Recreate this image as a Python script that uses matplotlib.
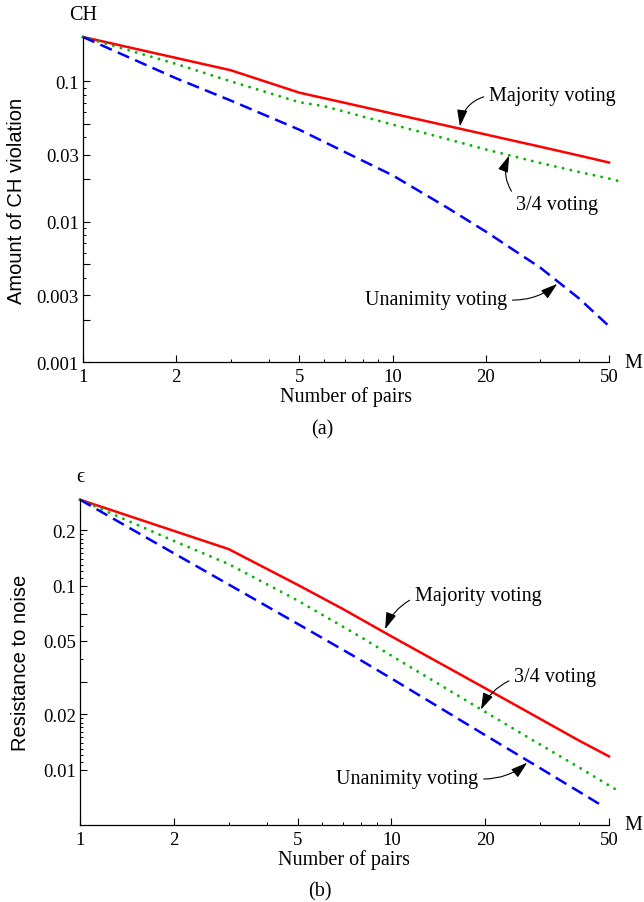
import numpy as np
import matplotlib
matplotlib.use('Agg')
import matplotlib.pyplot as plt
from matplotlib.ticker import FixedLocator, FixedFormatter, NullFormatter

# panel (a): amount of CH violation
m_maj_a = [1, 3, 5, 7, 10, 15, 20, 30, 40, 50]
ch_maj = [0.207, 0.120, 0.083, 0.0703, 0.0589, 0.0482, 0.0418, 0.0342, 0.0296, 0.0264]
m_34_a = [1, 2, 3, 5, 6, 10, 15, 20, 30, 40, 50, 56]
ch_34 = [0.207, 0.133, 0.100, 0.071, 0.0666, 0.0492, 0.0388, 0.0327, 0.0262, 0.0226, 0.0203, 0.0190]
m_una_a = [1, 2, 3, 5, 7, 10, 15, 20, 30, 40, 50]
ch_una = [0.207, 0.105, 0.073, 0.0452, 0.0314, 0.0214, 0.0126, 0.0085, 0.0047, 0.00284, 0.00180]

# panel (b): resistance to noise
m_maj_b = [1, 3, 5, 7, 10, 20, 30, 40, 50]
eps_maj = [0.293, 0.158, 0.101, 0.0745, 0.0530, 0.0277, 0.0189, 0.0144, 0.0118]
m_34_b = [1, 2, 3, 5, 8, 10, 20, 30, 40, 50, 54]
eps_34 = [0.293, 0.175, 0.131, 0.083, 0.0524, 0.0416, 0.0206, 0.0137, 0.0103, 0.0082, 0.0076]
m_una_b = [1, 2, 3, 5, 7.5, 10, 20, 30, 40, 48]
eps_una = [0.293, 0.150, 0.1015, 0.0620, 0.0418, 0.0313, 0.0154, 0.0102, 0.0076, 0.0063]

xticks = [1, 2, 5, 10, 20, 50]
xminor = [3, 4, 6, 7, 8, 9, 30, 40]

serif = ['Liberation Serif', 'DejaVu Serif']
sans = ['Liberation Sans', 'DejaVu Sans']
plt.rcParams['font.family'] = serif

RED = '#ff0000'
GREEN = '#00b400'
BLUE = '#0000ff'
FS = 14.5


def style_axes(ax, ylim, ylab_ticks, ymed_ticks, yminor):
    ax.set_xscale('log')
    ax.set_yscale('log')
    ax.set_xlim(1, 50)
    ax.set_ylim(*ylim)
    for s in ['top', 'right']:
        ax.spines[s].set_visible(False)
    for s in ['left', 'bottom']:
        ax.spines[s].set_linewidth(0.9)
    ax.xaxis.set_major_locator(FixedLocator(xticks))
    ax.xaxis.set_major_formatter(FixedFormatter([str(t) for t in xticks]))
    ax.xaxis.set_minor_locator(FixedLocator(xminor))
    ax.xaxis.set_minor_formatter(NullFormatter())
    major = sorted(ylab_ticks + ymed_ticks)
    labels = [('%g' % t if t in ylab_ticks else '') for t in major]
    ax.yaxis.set_major_locator(FixedLocator(major))
    ax.yaxis.set_major_formatter(FixedFormatter(labels))
    ax.yaxis.set_minor_locator(FixedLocator(yminor))
    ax.yaxis.set_minor_formatter(NullFormatter())
    ax.tick_params(which='major', direction='in', length=5, width=0.8, labelsize=13.5, pad=3)
    ax.tick_params(which='minor', direction='in', length=2.2, width=0.7)
    ax.tick_params(axis='x', which='major', pad=4)


def note(ax, text, xy, xytext, ha, relpos, rad):
    ax.annotate(text, xy=xy, xytext=xytext, textcoords='data', ha=ha, va='center',
                fontsize=FS, family=serif,
                arrowprops=dict(arrowstyle='-|>,head_length=0.7,head_width=0.22',
                                color='black', lw=0.8, relpos=relpos,
                                shrinkA=2, shrinkB=0,
                                connectionstyle='arc3,rad=%g' % rad))


fig = plt.figure(figsize=(6.44, 9.03), dpi=100)

# ---- (a)
ax1 = fig.add_axes([83 / 644, 1 - 363 / 903, 526 / 644, 325 / 903])
ax1.plot(m_maj_a, ch_maj, color=RED, lw=1.8, solid_joinstyle='round', clip_on=False)
ax1.plot(m_34_a, ch_34, color=GREEN, lw=2.1, linestyle=(0, (0.01, 2.7)),
         dash_capstyle='round', clip_on=False)
ax1.plot(m_una_a, ch_una, color=BLUE, lw=1.8, linestyle=(0, (5, 2.6)), clip_on=False)
style_axes(ax1, (0.001, 0.207),
           [0.001, 0.003, 0.01, 0.03, 0.1], [0.002, 0.005, 0.02, 0.05],
           [0.004, 0.006, 0.007, 0.008, 0.009, 0.04, 0.06, 0.07, 0.08, 0.09])
ax1.set_ylabel('Amount of CH violation', family=sans, fontsize=14.5)
ax1.yaxis.set_label_coords(-0.108, 0.5)
ax1.text(0.5, -0.105, 'Number of pairs', transform=ax1.transAxes, ha='center',
         va='center', fontsize=FS)
ax1.text(0.0, 1.068, 'CH', transform=ax1.transAxes, ha='center', va='center', fontsize=FS)
ax1.text(1.046, 0.0, 'M', transform=ax1.transAxes, ha='center', va='center', fontsize=FS)
note(ax1, 'Majority voting', (16.5, 0.0477), (20.5, 0.0794), 'left', (0.0, 0.5), 0.35)
note(ax1, '3/4 voting', (23.8, 0.0296), (25.0, 0.0132), 'left', (0.0, 0.9), -0.3)
note(ax1, 'Unanimity voting', (34.0, 0.0036), (23.4, 0.00277), 'right', (1.0, 0.5), 0.2)
fig.text(322 / 644, 1 - 430 / 903, '(a)', ha='center', va='center', fontsize=FS)

# ---- (b)
ax2 = fig.add_axes([80 / 644, 1 - 826 / 903, 529 / 644, 325.3 / 903])
ax2.plot(m_maj_b, eps_maj, color=RED, lw=1.8, solid_joinstyle='round', clip_on=False)
ax2.plot(m_34_b, eps_34, color=GREEN, lw=2.1, linestyle=(0, (0.01, 2.7)),
         dash_capstyle='round', clip_on=False)
ax2.plot(m_una_b, eps_una, color=BLUE, lw=1.8, linestyle=(0, (5, 2.6)), clip_on=False)
style_axes(ax2, (0.005, 0.293),
           [0.01, 0.02, 0.05, 0.1, 0.2], [0.03, 0.07],
           [0.011, 0.012, 0.013, 0.014, 0.015, 0.016, 0.017, 0.018, 0.019,
            0.04, 0.06, 0.08, 0.09,
            0.11, 0.12, 0.13, 0.14, 0.15, 0.16, 0.17, 0.18, 0.19])
ax2.set_ylabel('Resistance to noise', family=sans, fontsize=14.5)
ax2.yaxis.set_label_coords(-0.095, 0.5)
ax2.text(0.5, -0.105, 'Number of pairs', transform=ax2.transAxes, ha='center',
         va='center', fontsize=FS)
ax2.text(0.0, 1.071, '\u03f5', transform=ax2.transAxes, ha='center', va='center',
         fontsize=FS, family=serif)
ax2.text(1.046, 0.0, 'M', transform=ax2.transAxes, ha='center', va='center', fontsize=FS)
note(ax2, 'Majority voting', (9.55, 0.058), (11.9, 0.0882), 'left', (0.0, 0.4), 0.2)
note(ax2, '3/4 voting', (19.4, 0.0212), (24.8, 0.032), 'left', (0.0, 0.4), 0.2)
note(ax2, 'Unanimity voting', (27.3, 0.0109), (19.0, 0.0089), 'right', (1.0, 0.5), 0.2)
fig.text(320 / 644, 1 - 892 / 903, '(b)', ha='center', va='center', fontsize=FS)

fig.savefig('out.png', dpi=100)
